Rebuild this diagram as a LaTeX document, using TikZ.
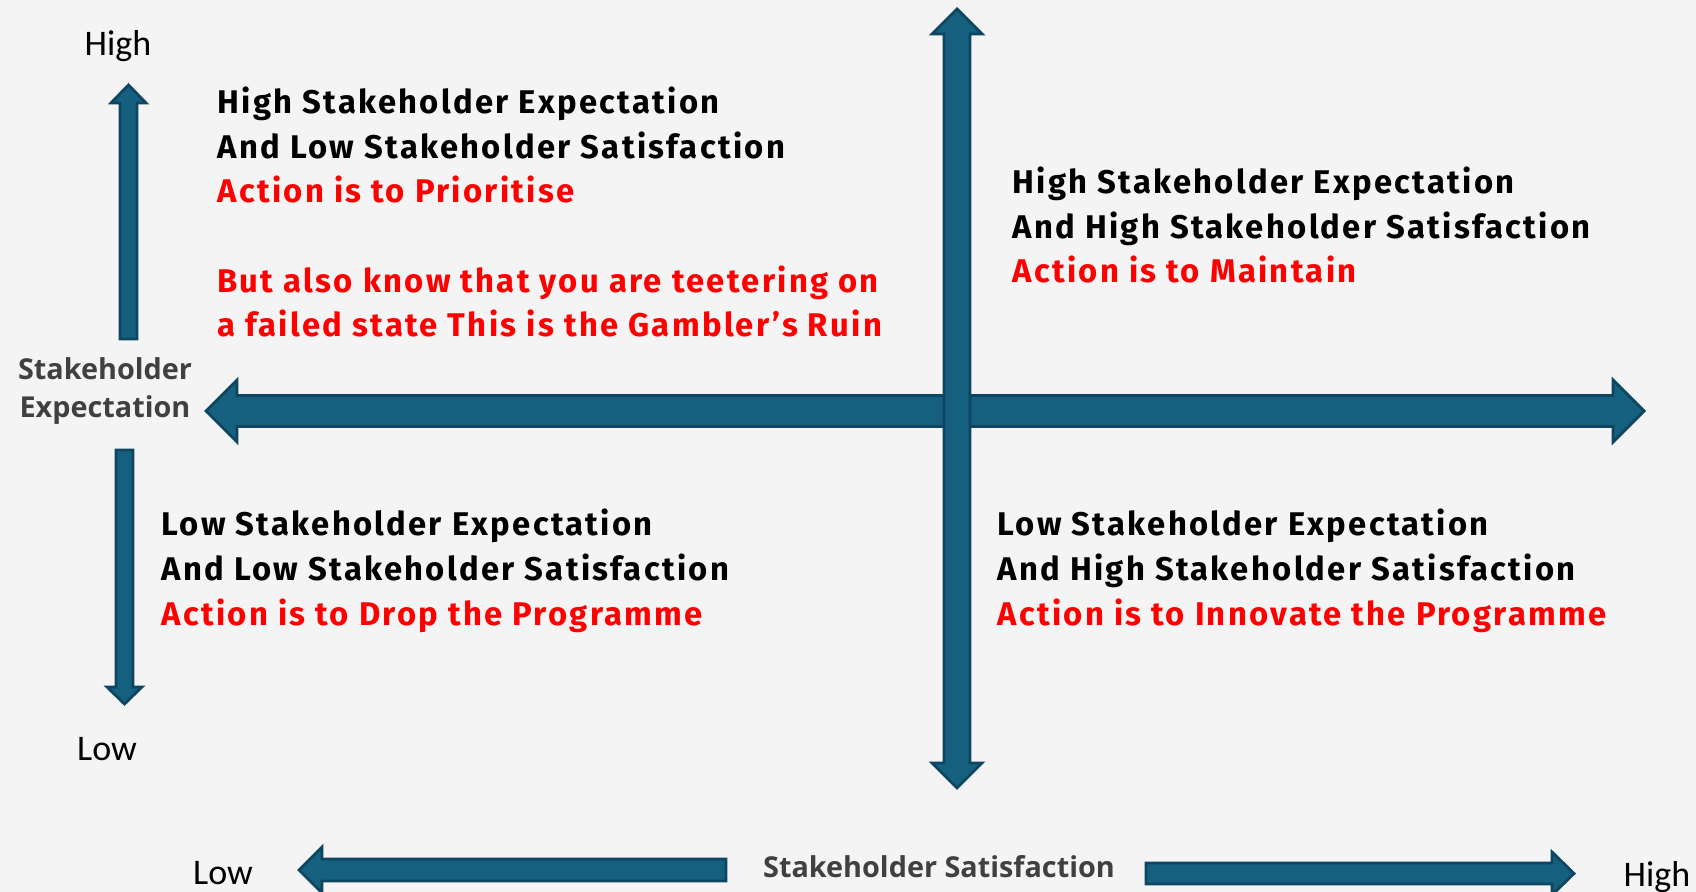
\documentclass[tikz,border=0pt]{standalone}
\usepackage{fontspec}
\setmainfont{Carlito}
\newfontfamily\quadfont{Fira Sans}[LetterSpace=7]
\newfontfamily\axisfont{Open Sans}
\usepackage{xcolor}
\definecolor{paper}{HTML}{F4F4F4}
\definecolor{steel}{HTML}{16607F}
\definecolor{steeledge}{HTML}{0E4560}
\definecolor{slate}{HTML}{404040}
\definecolor{alert}{HTML}{FF0000}

\tikzset{
  blockarrow/.style={fill=steel,draw=steeledge,line width=1.4pt,line join=miter},
  quadline/.style={anchor=base west,inner sep=0pt,font=\quadfont\bfseries\fontsize{16.4}{18}\selectfont},
  axislabel/.style={text=slate,inner sep=0pt,align=center,font=\axisfont\bfseries\fontsize{14.4}{19}\selectfont},
  endlabel/.style={inner sep=0pt,font=\fontsize{18}{20}\selectfont}
}

\begin{document}
\begin{tikzpicture}[x=0.5pt,y=-0.5pt]
\fill[paper] (0,0) rectangle (1696,892);
\useasboundingbox (0,0) rectangle (1696,892);
% main axes
\filldraw[blockarrow] (206,411) -- (237,380) -- (237,395.5) -- (1613,395.5) -- (1613,380) -- (1644,411) -- (1613,442) -- (1613,426.5) -- (237,426.5) -- (237,442) -- cycle;
\filldraw[blockarrow] (957,9) -- (982,34) -- (970,34) -- (970,763) -- (982,763) -- (957,788) -- (932,763) -- (944,763) -- (944,34) -- (932,34) -- cycle;
% expectation scale
\filldraw[blockarrow] (128.5,85) -- (146,103) -- (137,103) -- (137,339) -- (120,339) -- (120,103) -- (111,103) -- cycle;
\filldraw[blockarrow] (116,450) -- (133,450) -- (133,687) -- (142,687) -- (124.5,704) -- (107,687) -- (116,687) -- cycle;
% satisfaction scale
\filldraw[blockarrow] (299,870) -- (322,847) -- (322,859) -- (726,859) -- (726,881) -- (322,881) -- (322,893) -- cycle;
\filldraw[blockarrow] (1146,863) -- (1552,863) -- (1552,852) -- (1574,873.5) -- (1552,895) -- (1552,884) -- (1146,884) -- cycle;
% scale labels
\node[endlabel] (exphigh) at (118,46) {High};
\node[endlabel] (explow) at (107,749) {Low};
\node[endlabel] (satlow) at (223,873) {Low};
\node[endlabel] (sathigh) at (1657,877) {High};
\node[axislabel] (expname) at (105,391) {Stakeholder\\Expectation};
\node[axislabel] (satname) at (939,867) {Stakeholder Satisfaction};
% top left
\node[quadline] (tla) at (217,114) {High Stakeholder Expectation};
\node[quadline] (tlb) at (217,159) {And Low Stakeholder Satisfaction};
\node[quadline,text=alert] (tlc) at (217,203) {Action is to Prioritise};
\node[quadline,text=alert] (tld) at (217,293) {But also know that you are teetering on};
\node[quadline,text=alert] (tle) at (217,337) {a failed state This is the Gambler’s Ruin};
% top right
\node[quadline] (tra) at (1012,194) {High Stakeholder Expectation};
\node[quadline] (trb) at (1012,239) {And High Stakeholder Satisfaction};
\node[quadline,text=alert] (trc) at (1012,283) {Action is to Maintain};
% bottom left
\node[quadline] (bla) at (161,536) {Low Stakeholder Expectation};
\node[quadline] (blb) at (161,581) {And Low Stakeholder Satisfaction};
\node[quadline,text=alert] (blc) at (161,625) {Action is to Drop the Programme};
% bottom right
\node[quadline] (bra) at (997,536) {Low Stakeholder Expectation};
\node[quadline] (brb) at (997,581) {And High Stakeholder Satisfaction};
\node[quadline,text=alert] (brc) at (997,625) {Action is to Innovate the Programme};
\end{tikzpicture}
\end{document}
